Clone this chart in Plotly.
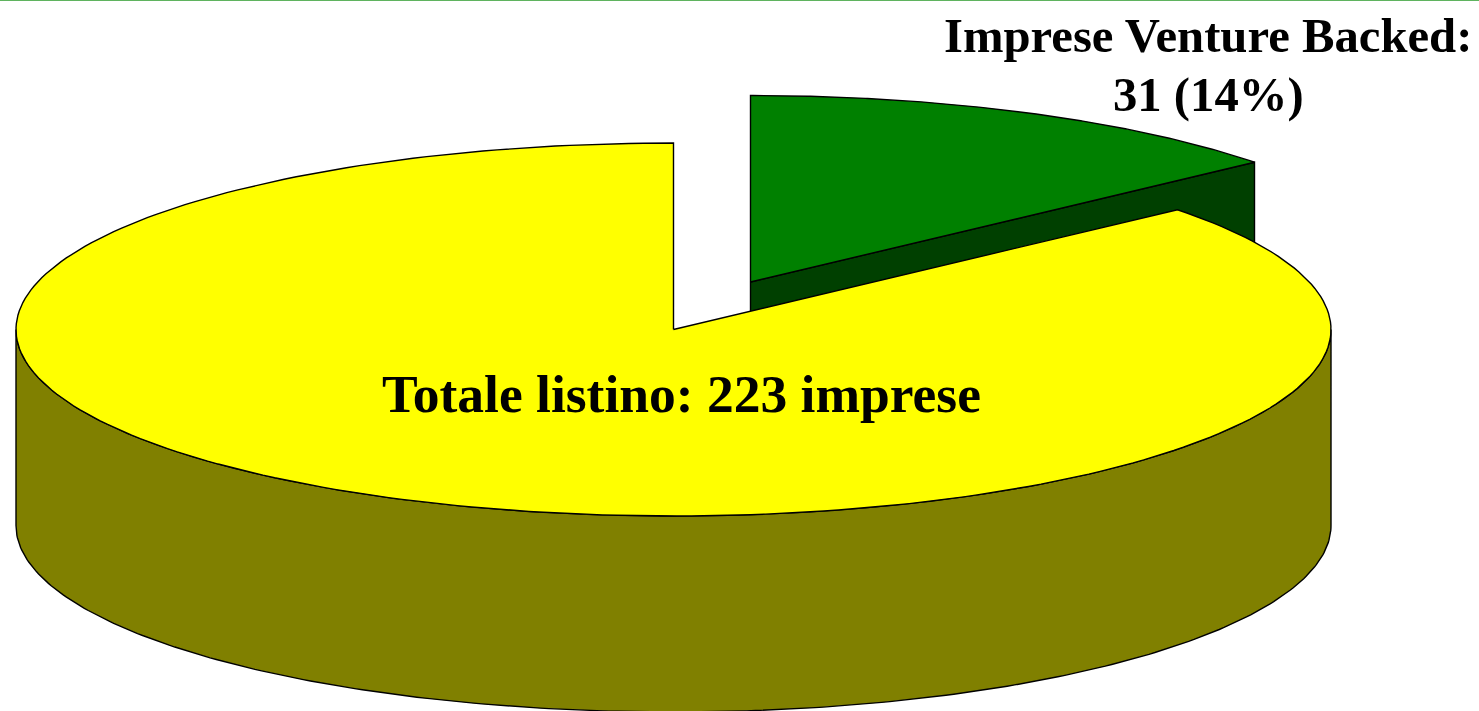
import numpy as np
import plotly.graph_objects as go

categories = ["Imprese Venture Backed", "Altre imprese del listino"]
values = [31, 192]
label_main = "Totale listino: 223 imprese"
label_slice_1 = "Imprese Venture Backed:"
label_slice_2 = "31 (14%)"

W, H = 1479, 711
RX, RY = 657.5, 186.5
DEPTH = 196
CX, CY = 673.5, 329.5
GX, GY = 750.5, 282
TEXT_FONT = "Liberation Serif"

total = sum(values)
split = 360 * values[0] / total


def rim(cx, cy, a0, a1, n=240):
    t = np.radians(np.linspace(a0, a1, n))
    return cx + RX * np.sin(t), cy - RY * np.cos(t)


def poly(fig, x, y, color):
    fig.add_trace(go.Scatter(
        x=list(x), y=list(y), mode="lines", fill="toself", fillcolor=color,
        line=dict(color="black", width=1.4), hoverinfo="skip", showlegend=False,
    ))


fig = go.Figure()

# Green slice: visible cut face, then top
ex, ey = rim(GX, GY, split, split, 1)
poly(fig, [GX, ex[0], ex[0], GX, GX], [GY, ey[0], ey[0] + DEPTH, GY + DEPTH, GY], "#004000")
x, y = rim(GX, GY, 0, split)
poly(fig, [GX, *x, GX], [GY, *y, GY], "#008000")

# Yellow slice: outer wall, then top
x, y = rim(CX, CY, 90, 270)
poly(fig, [*x, *x[::-1], x[0]], [*y, *(y[::-1] + DEPTH), y[0]], "#808000")
x, y = rim(CX, CY, split, 360)
poly(fig, [CX, *x, CX], [CY, *y, CY], "#FFFF00")

for tx, ty, txt, size in [(681, 394, label_main, 53.5),
                          (1208, 36, label_slice_1, 48.7),
                          (1208, 95, label_slice_2, 48.7)]:
    fig.add_annotation(x=tx, y=ty, text=f"<b>{txt}</b>", showarrow=False,
                       font=dict(family=TEXT_FONT, size=size, color="black"),
                       xanchor="center", yanchor="middle")

fig.add_shape(type="line", x0=0, x1=W, y0=0.5, y1=0.5,
              line=dict(color="#5FB35F", width=1))

fig.update_xaxes(range=[0, W], visible=False, fixedrange=True)
fig.update_yaxes(range=[H, 0], visible=False, fixedrange=True)
fig.update_layout(width=W, height=H, margin=dict(l=0, r=0, t=0, b=0),
                  paper_bgcolor="white", plot_bgcolor="white", showlegend=False)
fig.write_html("out.html", config={"displayModeBar": False},
               post_script="document.body.style.margin='0';document.body.style.overflow='hidden';")
